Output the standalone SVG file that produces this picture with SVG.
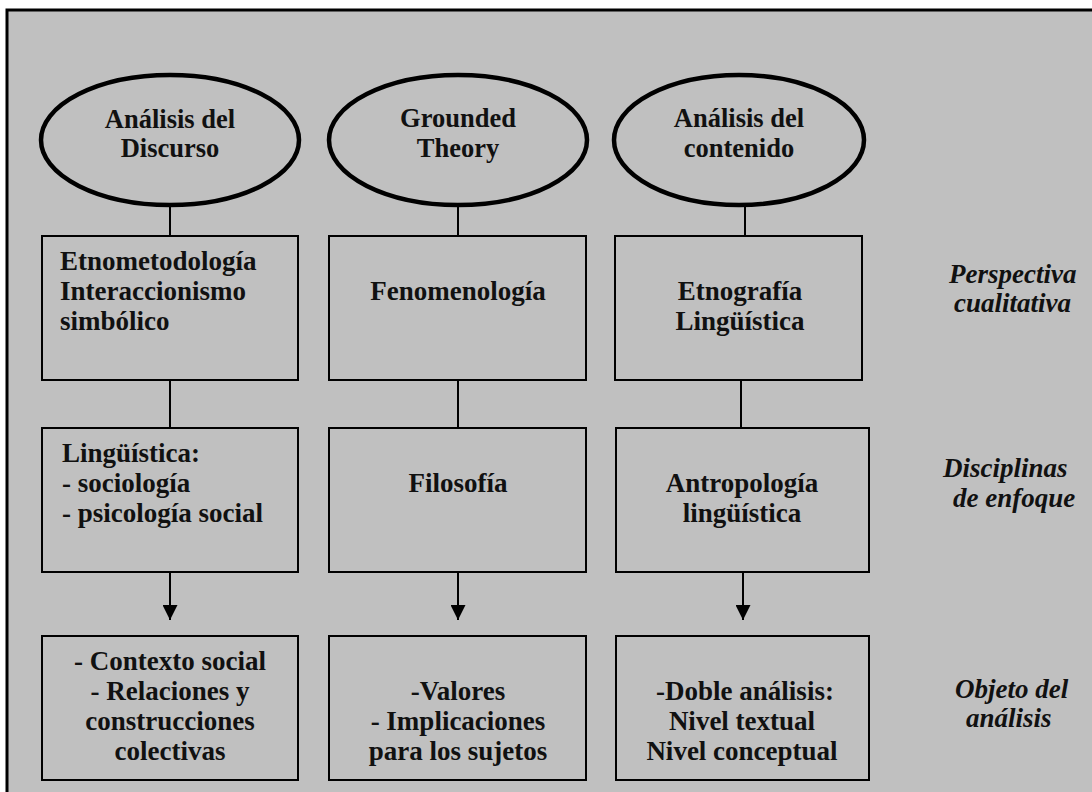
<svg xmlns="http://www.w3.org/2000/svg" width="1092" height="792" viewBox="0 0 1092 792">
  <defs>
    <style>
      .frame { fill: #c0c0c0; stroke: #000; stroke-width: 3; }
      .oval { fill: #c0c0c0; stroke: #000; stroke-width: 4.5; }
      .box { fill: #c0c0c0; stroke: #000; stroke-width: 2; }
      .link { stroke: #000; stroke-width: 2; fill: none; }
      .t { font-family: "Liberation Serif", "Times New Roman", serif; font-weight: bold; font-size: 27px; fill: #111; }
      .o { font-size: 26.5px; }
      .c { text-anchor: middle; }
      .side { font-family: "Liberation Serif", "Times New Roman", serif; font-weight: bold; font-style: italic; font-size: 27px; fill: #111; }
    </style>
    <marker id="arrow" markerWidth="16" markerHeight="15" refX="16" refY="8" orient="auto" markerUnits="userSpaceOnUse" viewBox="0 0 16 16">
      <path d="M0,0 L16,8 L0,16 Z" fill="#000"/>
    </marker>
  </defs>

  <rect class="frame" x="7" y="10" width="1100" height="800"/>

  <g id="connectors">
    <line class="link" x1="170" y1="206" x2="170" y2="236"/>
    <line class="link" x1="458" y1="206" x2="458" y2="236"/>
    <line class="link" x1="745" y1="206" x2="745" y2="236"/>
    <line class="link" x1="170" y1="380" x2="170" y2="428"/>
    <line class="link" x1="458" y1="380" x2="458" y2="428"/>
    <line class="link" x1="741" y1="380" x2="741" y2="428"/>
    <line class="link" x1="170" y1="572" x2="170" y2="620" marker-end="url(#arrow)"/>
    <line class="link" x1="458" y1="572" x2="458" y2="620" marker-end="url(#arrow)"/>
    <line class="link" x1="743" y1="572" x2="743" y2="620" marker-end="url(#arrow)"/>
  </g>

  <g id="oval-discurso">
    <ellipse class="oval" cx="170" cy="140" rx="129" ry="65"/>
    <text class="t o c" x="170" y="128">Análisis del</text>
    <text class="t o c" x="170" y="157">Discurso</text>
  </g>
  <g id="oval-grounded">
    <ellipse class="oval" cx="458" cy="140" rx="129" ry="65"/>
    <text class="t o c" x="458" y="127">Grounded</text>
    <text class="t o c" x="458" y="157">Theory</text>
  </g>
  <g id="oval-contenido">
    <ellipse class="oval" cx="739" cy="140" rx="125" ry="65"/>
    <text class="t o c" x="739" y="127">Análisis del</text>
    <text class="t o c" x="739" y="157">contenido</text>
  </g>

  <g id="box-etnometodologia">
    <rect class="box" x="42" y="236" width="256" height="144"/>
    <text class="t" x="60" y="270">Etnometodología</text>
    <text class="t" x="60" y="300">Interaccionismo</text>
    <text class="t" x="60" y="330">simbólico</text>
  </g>
  <g id="box-fenomenologia">
    <rect class="box" x="329" y="236" width="257" height="144"/>
    <text class="t c" x="458" y="300">Fenomenología</text>
  </g>
  <g id="box-etnografia">
    <rect class="box" x="615" y="236" width="247" height="144"/>
    <text class="t c" x="740" y="300">Etnografía</text>
    <text class="t c" x="740" y="330">Lingüística</text>
  </g>

  <g id="box-linguistica">
    <rect class="box" x="42" y="428" width="256" height="144"/>
    <text class="t" x="62" y="462">Lingüística:</text>
    <text class="t" x="62" y="492">- sociología</text>
    <text class="t" x="62" y="522">- psicología social</text>
  </g>
  <g id="box-filosofia">
    <rect class="box" x="329" y="428" width="257" height="144"/>
    <text class="t c" x="458" y="492">Filosofía</text>
  </g>
  <g id="box-antropologia">
    <rect class="box" x="616" y="428" width="253" height="144"/>
    <text class="t c" x="742" y="492">Antropología</text>
    <text class="t c" x="742" y="522">lingüística</text>
  </g>

  <g id="box-contexto">
    <rect class="box" x="42" y="636" width="256" height="144"/>
    <text class="t c" x="170" y="670">- Contexto social</text>
    <text class="t c" x="170" y="700">- Relaciones y</text>
    <text class="t c" x="170" y="730">construcciones</text>
    <text class="t c" x="170" y="760">colectivas</text>
  </g>
  <g id="box-valores">
    <rect class="box" x="329" y="636" width="257" height="144"/>
    <text class="t c" x="458" y="700">-Valores</text>
    <text class="t c" x="458" y="730">- Implicaciones</text>
    <text class="t c" x="458" y="760">para los sujetos</text>
  </g>
  <g id="box-doble">
    <rect class="box" x="616" y="636" width="253" height="144"/>
    <text class="t c" x="745" y="700">-Doble análisis:</text>
    <text class="t c" x="742" y="730">Nivel textual</text>
    <text class="t c" x="742" y="760">Nivel conceptual</text>
  </g>

  <g id="labels">
    <text class="side" x="949" y="283">Perspectiva</text>
    <text class="side" x="954" y="312">cualitativa</text>
    <text class="side" x="943" y="477">Disciplinas</text>
    <text class="side" x="953" y="507">de enfoque</text>
    <text class="side" x="955" y="698">Objeto del</text>
    <text class="side" x="966" y="727">análisis</text>
  </g>
</svg>
